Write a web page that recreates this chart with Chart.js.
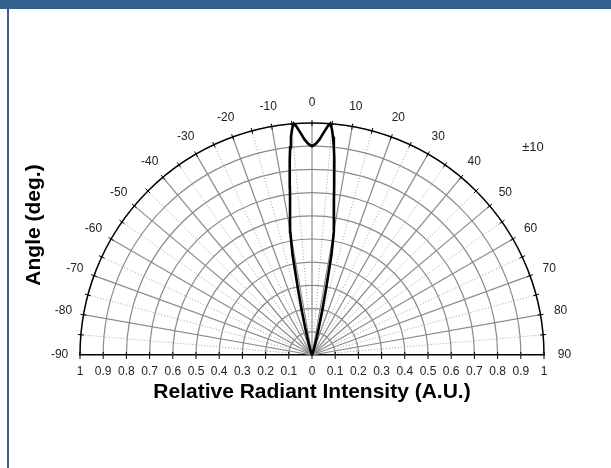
<!DOCTYPE html>
<html>
<head>
<meta charset="utf-8">
<title>Relative Radiant Intensity</title>
<script src="https://cdn.jsdelivr.net/npm/chart.js@4.4.1/dist/chart.umd.min.js"></script>
<style>
    body { margin: 0; background: #fff; }
    #wrap { position: relative; width: 611px; height: 468px; overflow: hidden; }
    #topBar { position: absolute; left: 0; top: 0; width: 611px; height: 9px; background: #34608f; }
    #leftBar { position: absolute; left: 7px; top: 0; width: 2px; height: 468px; background: #34608f; }
    canvas { position: absolute; left: 0; top: 0; }
</style>
</head>
<body>
<div id="wrap">
    <canvas id="polarChart" width="611" height="468"></canvas>
    <div id="topBar"></div>
    <div id="leftBar"></div>
</div>
<script>
// Radiation pattern (angle in degrees, intensity 0..1)
const patternAngles = [-20, -18, -16, -15, -14, -13, -12, -11, -10, -9, -8, -7.5, -7, -6.5, -6, -5.5, -5, -4.5, -4, -3, -2, -1,
    0, 1, 2, 3, 4, 4.5, 5, 5.5, 6, 6.5, 7, 7.5, 8, 9, 10, 11, 12, 13, 14, 15, 16, 18, 20];
const patternIntensity = [0, 0.02, 0.05, 0.08, 0.12, 0.19, 0.29, 0.44, 0.54, 0.605, 0.68, 0.73, 0.785, 0.85, 0.90, 0.945, 0.98, 1.0, 0.99, 0.96, 0.93, 0.91,
    0.90, 0.91, 0.93, 0.96, 0.99, 1.0, 0.98, 0.945, 0.90, 0.85, 0.785, 0.73, 0.68, 0.605, 0.54, 0.44, 0.29, 0.19, 0.12, 0.08, 0.05, 0.02, 0];

// Grid / label definitions
const radiusTicks = [0.1, 0.2, 0.3, 0.4, 0.5, 0.6, 0.7, 0.8, 0.9];
const angleTicks = [-90, -80, -70, -60, -50, -40, -30, -20, -10, 0, 10, 20, 30, 40, 50, 60, 70, 80, 90];
const minorAngles = [-85, -75, -65, -55, -45, -35, -25, -15, -5, 5, 15, 25, 35, 45, 55, 65, 75, 85];
const halfAngleLabel = '±10';

const DEG = Math.PI / 180;

// Convert polar points to x/y for the scatter scales
const patternPoints = patternAngles.map((a, i) => ({
    x: patternIntensity[i] * Math.sin(a * DEG),
    y: patternIntensity[i] * Math.cos(a * DEG)
}));

const polarGrid = {
    id: 'polarGrid',
    beforeDatasetsDraw(chart) {
        const ctx = chart.ctx;
        const xs = chart.scales.x;
        const ys = chart.scales.y;
        const cx = xs.getPixelForValue(0);
        const cy = ys.getPixelForValue(0);
        const unit = xs.getPixelForValue(1) - cx;

        ctx.save();
        // concentric half circles
        ctx.strokeStyle = '#8a8a8a';
        ctx.lineWidth = 1.2;
        radiusTicks.forEach(r => {
            ctx.beginPath();
            ctx.arc(cx, cy, r * unit, Math.PI, 2 * Math.PI);
            ctx.stroke();
        });

        // solid radial lines every 10 degrees
        angleTicks.forEach(a => {
            if (Math.abs(a) === 90) return;
            ctx.beginPath();
            ctx.moveTo(cx, cy);
            ctx.lineTo(cx + unit * Math.sin(a * DEG), cy - unit * Math.cos(a * DEG));
            ctx.stroke();
        });

        // dotted radial lines in between
        ctx.strokeStyle = '#9a9a9a';
        ctx.lineWidth = 0.9;
        ctx.setLineDash([1, 2]);
        minorAngles.forEach(a => {
            const s = Math.sin(a * DEG), c = Math.cos(a * DEG);
            ctx.beginPath();
            ctx.moveTo(cx + 0.1 * unit * s, cy - 0.1 * unit * c);
            ctx.lineTo(cx + unit * s, cy - unit * c);
            ctx.stroke();
        });
        ctx.setLineDash([]);

        // outer arc
        ctx.strokeStyle = '#000';
        ctx.lineWidth = 1.5;
        ctx.beginPath();
        ctx.arc(cx, cy, unit, Math.PI, 2 * Math.PI);
        ctx.stroke();

        // small ticks crossing the outer arc
        ctx.lineWidth = 1;
        angleTicks.concat(minorAngles).forEach(a => {
            if (Math.abs(a) === 90) return;
            const s = Math.sin(a * DEG), c = Math.cos(a * DEG);
            ctx.beginPath();
            ctx.moveTo(cx + (unit - 3) * s, cy - (unit - 3) * c);
            ctx.lineTo(cx + (unit + 3) * s, cy - (unit + 3) * c);
            ctx.stroke();
        });

        // ticks crossing the baseline
        xs.ticks.forEach(t => {
            const px = xs.getPixelForValue(t.value);
            ctx.beginPath();
            ctx.moveTo(px, cy - 3);
            ctx.lineTo(px, cy + 4);
            ctx.stroke();
        });
        ctx.restore();
    },
    afterDraw(chart) {
        const ctx = chart.ctx;
        const xs = chart.scales.x;
        const ys = chart.scales.y;

        ctx.save();
        ctx.fillStyle = '#222';
        ctx.font = '12px "Liberation Sans", Arial, sans-serif';
        ctx.textAlign = 'center';
        ctx.textBaseline = 'middle';
        // angle labels round the arc
        angleTicks.forEach(a => {
            const R = 1.088;
            const px = xs.getPixelForValue(R * Math.sin(a * DEG));
            const py = ys.getPixelForValue(R * Math.cos(a * DEG));
            ctx.fillText(String(a), px, py);
        });

        // half angle note
        ctx.font = '13px "Liberation Sans", Arial, sans-serif';
        ctx.fillText(halfAngleLabel, 533, 147);

        // vertical title
        ctx.fillStyle = '#000';
        ctx.font = 'bold 21px "Liberation Sans", Arial, sans-serif';
        ctx.translate(34, 225);
        ctx.rotate(-Math.PI / 2);
        ctx.fillText('Angle (deg.)', 0, 0);
        ctx.restore();
    }
};

const chart = new Chart(document.getElementById('polarChart'), {
    type: 'scatter',
    data: {
        datasets: [{
            data: patternPoints,
            showLine: true,
            borderColor: '#000',
            borderWidth: 2.6,
            pointRadius: 0,
            tension: 0,
            clip: false
        }]
    },
    options: {
        responsive: false,
        animation: false,
        layout: { padding: { left: 80, right: 67, top: 123, bottom: 0 } },
        plugins: { legend: { display: false }, tooltip: { enabled: false } },
        scales: {
            x: {
                type: 'linear',
                min: -1,
                max: 1,
                afterFit: scale => { scale.height = 113; },
                grid: { display: false, drawTicks: false },
                border: { display: true, color: '#000', width: 1.5 },
                ticks: {
                    stepSize: 0.1,
                    autoSkip: false,
                    maxRotation: 0,
                    padding: 9,
                    color: '#222',
                    font: { family: '"Liberation Sans", Arial, sans-serif', size: 12 },
                    callback: v => String(Math.abs(Math.round(v * 10) / 10))
                },
                title: {
                    display: true,
                    text: 'Relative Radiant Intensity (A.U.)',
                    color: '#000',
                    font: { family: '"Liberation Sans", Arial, sans-serif', size: 21, weight: 'bold' },
                    padding: { top: 0, bottom: 63 }
                }
            },
            y: {
                type: 'linear',
                display: false,
                min: 0,
                max: 1
            }
        }
    },
    plugins: [polarGrid]
});
</script>
</body>
</html>
